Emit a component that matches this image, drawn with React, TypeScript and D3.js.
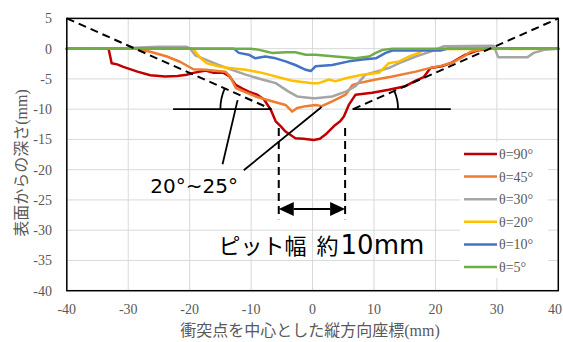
import React from "react";
import * as d3 from "d3";

const W = 563;
const H = 342;

const xTicks = [-40, -30, -20, -10, 0, 10, 20, 30, 40];
const yTicks = [5, 0, -5, -10, -15, -20, -25, -30, -35, -40];

const seriesNames = ["θ=90°", "θ=45°", "θ=30°", "θ=20°", "θ=10°", "θ=5°"];
const seriesColors = ["#C00000", "#ED7D31", "#A5A5A5", "#FFC000", "#4472C4", "#70AD47"];

const x90 = [-40, -33.2, -32.7, -31.8, -30.8, -28.5, -26.4, -24, -22, -20.5, -19.4, -17.4, -16.1, -14.5, -13.5, -12.5, -11.4, -10.4, -9, -7.9, -6.8, -6.0, -5.2, -4.4, -2.8, -1.5, 0.2, 1.2, 2.1, 3.7, 4.5, 5.1, 5.9, 7.0, 9.7, 12.4, 15.1, 16.8, 18.1, 19.2, 21, 22.5, 24.9, 26.8, 28.5, 40];
const y90 = [0, 0, -2.4, -2.6, -3.0, -3.8, -4.4, -4.6, -4.5, -4.3, -4.0, -3.6, -4.0, -4.0, -4.6, -6.0, -6.6, -7.1, -7.6, -8.4, -10.1, -12.0, -12.8, -13.7, -14.8, -14.9, -15.1, -14.9, -14.2, -12.6, -12.0, -11.2, -9.3, -7.6, -7.3, -6.8, -6.2, -5.3, -4.7, -3.2, -2.9, -2.4, -1.0, -0.3, 0, 0];

const x45 = [-40, -28.8, -26.4, -23.7, -21.5, -19.4, -17.4, -14.2, -13.4, -12.5, -9.3, -6.6, -4.4, -3.3, -2.5, -1.1, 0.5, 1.5, 3.2, 5.4, 6.5, 7.5, 10.3, 13.0, 16.8, 18.7, 21, 23, 24.6, 25.7, 27.4, 29, 40];
const y45 = [0, 0, -0.5, -1.3, -2.2, -3.4, -3.5, -3.8, -4.6, -6.5, -7.9, -8.7, -9.3, -10.4, -9.8, -9.5, -9.3, -9.5, -8.7, -7.6, -6.0, -5.7, -5.1, -4.6, -3.8, -3.3, -2.8, -2.2, -1.3, -0.5, -0.1, 0, 0];

const x30 = [-40, -30, -25, -20.5, -19.9, -19.1, -17.2, -15.3, -13.1, -10.9, -8.2, -6.0, -3.9, -2.5, 0, 0.5, 3.2, 5.4, 7.0, 8.6, 10.3, 12.4, 14.1, 16.8, 19.2, 21.4, 29.5, 30.2, 35, 36, 37.7, 40];
const y30 = [0, 0.1, 0.3, 0.3, 0, -1.1, -1.9, -2.7, -3.5, -4.3, -5.1, -5.7, -7.1, -7.9, -8.2, -8.2, -7.9, -7.1, -6.2, -4.3, -3.8, -3.2, -2.4, -1.3, -0.5, 0.4, 0.5, -1.4, -1.4, -0.7, -0.2, 0];

const x20 = [-40, -19.5, -18.2, -17.2, -15, -14.2, -10.9, -8.2, -4.9, -3.3, 0, 1, 2.7, 3.7, 5.4, 8.1, 10.8, 12.4, 14.1, 15.7, 17.3, 18.1, 40];
const y20 = [0, 0, -1.6, -2.4, -3.0, -3.1, -3.5, -4.0, -4.9, -5.3, -5.7, -5.7, -5.1, -5.4, -4.9, -4.3, -4.0, -2.4, -2.1, -1.3, -0.7, -0.1, 0];

const x10 = [-40, -12.8, -12, -10.4, -9.3, -7.7, -6, -4.4, -2.8, -1.1, -0.3, 0.2, 0.5, 3.2, 5.9, 8.1, 10.3, 11.9, 13, 20.8, 22, 40];
const y10 = [0, 0, -0.7, -1.0, -1.6, -1.3, -1.6, -2.1, -2.7, -3.5, -3.7, -3.2, -2.9, -2.7, -2.1, -1.8, -1.6, -0.7, -0.3, -0.3, 0, 0];

const x5 = [-40, -10, -8.7, -7.4, -6.6, -4.4, -2.8, -1.1, 0.5, 3.7, 7, 9.2, 10.3, 11.4, 13, 40];
const y5 = [0, 0, -0.2, -0.5, -0.7, -0.6, -0.6, -1.0, -1.0, -1.3, -1.6, -1.3, -0.7, -0.2, 0, 0];

const seriesX = [x90, x45, x30, x20, x10, x5];
const seriesY = [y90, y45, y30, y20, y10, y5];

// annotation geometry in data units
const dashLeft = [[-40, 5], [-6.7, -10]];
const dashRight = [[6.6, -10], [40, 5]];
const horizLeft = [[-22.7, -10], [-6.7, -10]];
const horizRight = [[6.5, -10], [22.5, -10]];
const pitEdges = [-5.5, 5.3];
const pitDashY = [-13.1, -28.2];
const arrowY = -26.5;
const pointer1 = [[-14.65, -19.1], [-12.2, -8.5]];
const pointer2 = [[-11.2, -20.1], [1.47, -9.65]];
const angleLabel = "20°~25°";
const angleLabelPos = [-26.4, -23.9];
const pitLabelA = "ピット幅";
const pitLabelB = "約";
const pitLabelNum = "10mm";
const pitLabelPos = [-15.3, -33.9];

export default function App() {
  const x = d3.scaleLinear().domain([-40, 40]).range([66.8, 558.3]);
  const y = d3.scaleLinear().domain([-40, 5]).range([290.7, 18.4]);

  const paths = seriesX.map((xs, si) => {
    const pts = xs.map((v, i) => [x(v), y(seriesY[si][i])] as [number, number]);
    return d3.line()(pts) || "";
  });

  const P = (p: number[]) => [x(p[0]), y(p[1])];
  const gridC = "#D9D9D9";
  const txtC = "#595959";

  const [l0, l1] = dashLeft.map(P);
  const aL = Math.atan2(l1[1] - l0[1], l1[0] - l0[0]);
  const rL = 51;
  const cL = l1;
  const arcL = `M${cL[0] - rL},${cL[1]} A${rL},${rL} 0 0 1 ${cL[0] - rL * Math.cos(aL)},${cL[1] - rL * Math.sin(aL)}`;
  const [r0, r1] = dashRight.map(P);
  const aR = Math.atan2(r0[1] - r1[1], r1[0] - r0[0]);
  const rR = 45;
  const cR = r0;
  const arcR = `M${cR[0] + rR},${cR[1]} A${rR},${rR} 0 0 0 ${cR[0] + rR * Math.cos(aR)},${cR[1] - rR * Math.sin(aR)}`;

  const ay = y(arrowY);
  const axL = x(pitEdges[0]);
  const axR = x(pitEdges[1]);
  const ah = 15;
  const aw = 7;

  const legX = 460;
  const legY = 142;
  const legStep = 22.6;

  return (
    <svg width={W} height={H} style={{ position: "absolute", left: 0, top: 0, background: "#fff" }}>
      <rect width={W} height={H} fill="#fff" />
      {xTicks.map((t) => (
        <line key={"gx" + t} x1={x(t)} x2={x(t)} y1={y(5)} y2={y(-40)} stroke={gridC} strokeWidth={1} />
      ))}
      {yTicks.map((t) => (
        <line key={"gy" + t} x1={x(-40)} x2={x(40)} y1={y(t)} y2={y(t)} stroke={gridC} strokeWidth={1} />
      ))}
      {yTicks.map((t) => (
        <text key={"ty" + t} x={52} y={y(t)} dy="0.35em" textAnchor="end" fontFamily="Liberation Serif" fontSize={14} fill={txtC}>
          {t}
        </text>
      ))}
      {xTicks.map((t) => (
        <text key={"tx" + t} x={Math.min(x(t), 555)} y={314} textAnchor="middle" fontFamily="Liberation Serif" fontSize={14} fill={txtC}>
          {t}
        </text>
      ))}
      <text transform={`translate(21,163) rotate(-90)`} textAnchor="middle" dy="0.35em" fontFamily="Noto Sans CJK JP" fontSize={16} fill={txtC}>
        表面からの深さ<tspan fontFamily="Liberation Serif">(mm)</tspan>
      </text>
      <text x={310} y={336} textAnchor="middle" fontFamily="Noto Sans CJK JP" fontSize={16} fill={txtC}>
        衝突点を中心とした縦方向座標<tspan fontFamily="Liberation Serif">(mm)</tspan>
      </text>
      {paths.map((d, i) => (
        <path key={"s" + i} d={d} fill="none" stroke={seriesColors[i]} strokeWidth={2.5} strokeLinejoin="round" strokeLinecap="round" />
      ))}
      {[dashLeft, dashRight].map((seg, i) => {
        const [a, b] = seg.map(P);
        return <line key={"d" + i} x1={a[0]} y1={a[1]} x2={b[0]} y2={b[1]} stroke="#000" strokeWidth={2} strokeDasharray="8 5" />;
      })}
      {[horizLeft, horizRight, pointer1, pointer2].map((seg, i) => {
        const [a, b] = seg.map(P);
        return <line key={"h" + i} x1={a[0]} y1={a[1]} x2={b[0]} y2={b[1]} stroke="#000" strokeWidth={1.8} />;
      })}
      <path d={arcL} fill="none" stroke="#000" strokeWidth={1.8} />
      <path d={arcR} fill="none" stroke="#000" strokeWidth={1.8} />
      {pitEdges.map((e, i) => (
        <line key={"v" + i} x1={x(e)} x2={x(e)} y1={y(pitDashY[0])} y2={y(pitDashY[1])} stroke="#000" strokeWidth={2} strokeDasharray="8 5" />
      ))}
      <line x1={axL + ah} x2={axR - ah} y1={ay} y2={ay} stroke="#000" strokeWidth={2} />
      <path d={`M${axL},${ay} L${axL + ah},${ay - aw} L${axL + ah},${ay + aw} Z`} fill="#000" />
      <path d={`M${axR},${ay} L${axR - ah},${ay - aw} L${axR - ah},${ay + aw} Z`} fill="#000" />
      <text x={x(angleLabelPos[0])} y={y(angleLabelPos[1])} fontFamily="DejaVu Sans" fontSize={20} fill="#000">
        {angleLabel}
      </text>
      <text x={x(pitLabelPos[0])} y={y(pitLabelPos[1])} fontFamily="Noto Sans CJK JP" fontSize={22} fill="#000">
        {pitLabelA}
        <tspan dx={10}>{pitLabelB}</tspan>
        <tspan dx={2} fontFamily="DejaVu Sans" fontSize={26}>{pitLabelNum}</tspan>
      </text>
      <rect x={legX} y={legY} width={88} height={136} fill="#fff" />
      {seriesNames.map((n, i) => (
        <g key={"l" + i}>
          <line x1={464} x2={497} y1={154 + i * legStep} y2={154 + i * legStep} stroke={seriesColors[i]} strokeWidth={2.5} />
          <text x={499} y={154 + i * legStep} dy="0.35em" fontFamily="Liberation Serif" fontSize={14} fill={txtC}>
            {n}
          </text>
        </g>
      ))}
      <rect x={x(-40)} y={y(5)} width={x(40) - x(-40)} height={y(-40) - y(5)} fill="none" stroke="#000" strokeWidth={1.5} />
    </svg>
  );
}
